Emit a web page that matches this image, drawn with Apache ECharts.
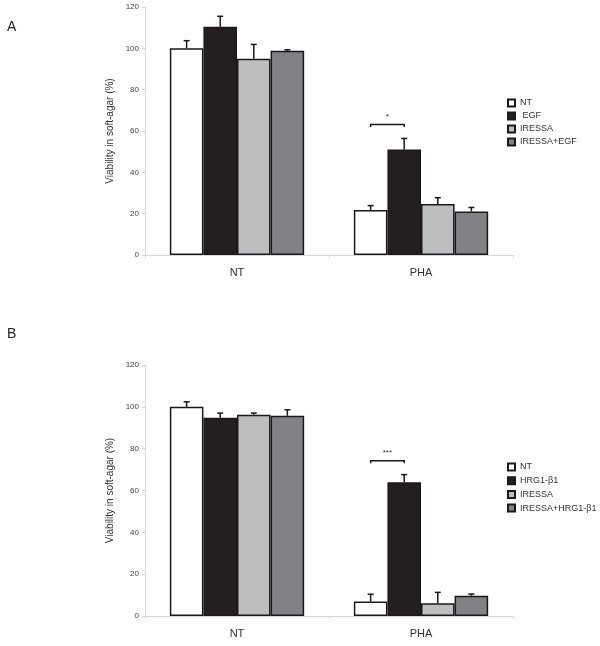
<!DOCTYPE html>
<html><head><meta charset="utf-8">
<script src="https://cdn.jsdelivr.net/npm/echarts@6/dist/echarts.min.js"></script>
<style>html,body{margin:0;padding:0;background:#fff}#c{width:600px;height:646px}</style>
</head><body><div id="c"></div>
<script>
// ---- data ----
const categories = ['NT', 'PHA'];
const yTicks = [0, 20, 40, 60, 80, 100, 120];

const namesA = ['NT', 'EGF', 'IRESSA', 'IRESSA+EGF'];
const a_NT = [100, 21.8];
const a_EGF = [110.5, 51];
const a_IRESSA = [95, 24.7];
const a_IRESSA_EGF = [98.8, 21.1];
const a_NT_err = [3.7, 2.1];
const a_EGF_err = [5, 5.4];
const a_IRESSA_err = [6.9, 3];
const a_IRESSA_EGF_err = [0.5, 1.9];
const sigA = { category: 1, from: 0, to: 1, y: 63.2, label: '*' };

const namesB = ['NT', 'HRG1-β1', 'IRESSA', 'IRESSA+HRG1-β1'];
const b_NT = [100, 6.9];
const b_HRG = [94.8, 64];
const b_IRESSA = [96.2, 6.1];
const b_IRESSA_HRG = [95.7, 9.7];
const b_NT_err = [2.4, 3.5];
const b_HRG_err = [2.2, 3.6];
const b_IRESSA_err = [0.8, 5.2];
const b_IRESSA_HRG_err = [2.9, 0.8];
const sigB = { category: 1, from: 0, to: 1, y: 74.2, label: '***' };

// ---- styling ----
const colors = ['#ffffff', '#231f20', '#bcbec0', '#808285'];
const FONT = 'Liberation Sans, Arial, sans-serif';
const CAT_GAP = 0.27;
const NBARS = 4;

const chart = echarts.init(document.getElementById('c'), null, { renderer: 'canvas' });

function barSeries(name, data, idx, axisIdx) {
  return {
    type: 'bar', name: name, data: data,
    xAxisIndex: axisIdx, yAxisIndex: axisIdx,
    barGap: '0%', barCategoryGap: (CAT_GAP * 100) + '%',
    itemStyle: { color: colors[idx], borderColor: '#1a1a1a', borderWidth: 1.5 },
    emphasis: { disabled: true }, z: 2
  };
}

function barCenterX(api, cat, si) {
  const band = api.size([1, 0])[0];
  const total = band * (1 - CAT_GAP);
  const bw = total / NBARS;
  const c = api.coord([cat, 0]);
  return c[0] - total / 2 + bw * (si + 0.5);
}

function errSeries(means, errs, axisIdx) {
  const data = [];
  means.forEach((m, si) => m.forEach((v, ci) => data.push([ci, si, v, errs[si][ci]])));
  return {
    type: 'custom', xAxisIndex: axisIdx, yAxisIndex: axisIdx,
    encode: { x: 0, y: 2 }, data: data, z: 5, silent: true,
    renderItem: function (params, api) {
      const ci = api.value(0), si = api.value(1), m = api.value(2), e = api.value(3);
      const x = barCenterX(api, ci, si);
      const y0 = api.coord([ci, m])[1];
      const y1 = api.coord([ci, m + e])[1];
      const st = { stroke: '#1a1a1a', lineWidth: 1.5 };
      return {
        type: 'group', children: [
          { type: 'line', shape: { x1: x, y1: y0, x2: x, y2: y1 }, style: st },
          { type: 'line', shape: { x1: x - 3, y1: y1, x2: x + 3, y2: y1 }, style: st }
        ]
      };
    }
  };
}

function sigSeries(sig, axisIdx) {
  return {
    type: 'custom', xAxisIndex: axisIdx, yAxisIndex: axisIdx,
    encode: { x: 0, y: 3 }, data: [[sig.category, sig.from, sig.to, sig.y]], z: 5, silent: true,
    renderItem: function (params, api) {
      const ci = api.value(0);
      const xa = barCenterX(api, ci, api.value(1));
      const xb = barCenterX(api, ci, api.value(2));
      const y = api.coord([ci, api.value(3)])[1];
      return {
        type: 'group', children: [
          { type: 'polyline', shape: { points: [[xa, y + 2.5], [xa, y], [xb, y], [xb, y + 2.5]] }, style: { stroke: '#1a1a1a', lineWidth: 1.5, fill: null } },
          { type: 'text', style: { text: sig.label, x: (xa + xb) / 2, y: y - 4, align: 'center', verticalAlign: 'bottom', font: '8px ' + FONT, fill: '#333' } }
        ]
      };
    }
  };
}

function xAxisCfg(gi) {
  return {
    type: 'category', gridIndex: gi, data: categories,
    axisLine: { lineStyle: { color: '#d8d8d8', width: 1 } },
    axisTick: { show: true, length: 3, lineStyle: { color: '#d8d8d8' } },
    axisLabel: { color: '#333', fontSize: 11, fontFamily: FONT, margin: 12 }
  };
}
function yAxisCfg(gi) {
  return {
    type: 'value', gridIndex: gi, min: yTicks[0], max: yTicks[yTicks.length - 1], interval: 20,
    name: 'Viability in soft-agar (%)', nameLocation: 'middle', nameGap: 18,
    nameTextStyle: { color: '#333', fontSize: 10, fontFamily: FONT },
    axisLine: { show: true, lineStyle: { color: '#d8d8d8', width: 1 } },
    axisTick: { show: true, length: 3, lineStyle: { color: '#d8d8d8' } },
    splitLine: { show: false },
    axisLabel: { color: '#444', fontSize: 8, fontFamily: FONT, margin: 6 }
  };
}

const legendText = { color: '#333', fontSize: 9, fontFamily: FONT, lineHeight: 12 };

const option = {
  animation: false,
  backgroundColor: '#fff',
  title: [
    { text: 'A', left: 2, top: 15, textStyle: { fontSize: 14, fontWeight: 'normal', color: '#222', fontFamily: FONT } },
    { text: 'B', left: 2, top: 322, textStyle: { fontSize: 14, fontWeight: 'normal', color: '#222', fontFamily: FONT } }
  ],
  grid: [
    { left: 145, right: 87, top: 7, height: 248 },
    { left: 145, right: 87, top: 365, height: 251 }
  ],
  xAxis: [xAxisCfg(0), xAxisCfg(1)],
  yAxis: [yAxisCfg(0), yAxisCfg(1)],
  legend: [
    {
      data: namesA, left: 502, top: 92, orient: 'vertical', itemWidth: 7, itemHeight: 7, itemGap: 1,
      selectedMode: false, icon: 'rect',
      formatter: n => n === 'EGF' ? ' EGF' : n,
      textStyle: legendText
    },
    {
      data: namesB, left: 502, top: 456, orient: 'vertical', itemWidth: 7, itemHeight: 7, itemGap: 1.7,
      selectedMode: false, icon: 'rect',
      textStyle: legendText
    }
  ],
  series: [
    barSeries(namesA[0], a_NT, 0, 0),
    barSeries(namesA[1], a_EGF, 1, 0),
    barSeries(namesA[2], a_IRESSA, 2, 0),
    barSeries(namesA[3], a_IRESSA_EGF, 3, 0),
    errSeries([a_NT, a_EGF, a_IRESSA, a_IRESSA_EGF], [a_NT_err, a_EGF_err, a_IRESSA_err, a_IRESSA_EGF_err], 0),
    sigSeries(sigA, 0),
    barSeries(namesB[0], b_NT, 0, 1),
    barSeries(namesB[1], b_HRG, 1, 1),
    barSeries(namesB[2], b_IRESSA, 2, 1),
    barSeries(namesB[3], b_IRESSA_HRG, 3, 1),
    errSeries([b_NT, b_HRG, b_IRESSA, b_IRESSA_HRG], [b_NT_err, b_HRG_err, b_IRESSA_err, b_IRESSA_HRG_err], 1),
    sigSeries(sigB, 1)
  ]
};
chart.setOption(option);
</script>
</body></html>
